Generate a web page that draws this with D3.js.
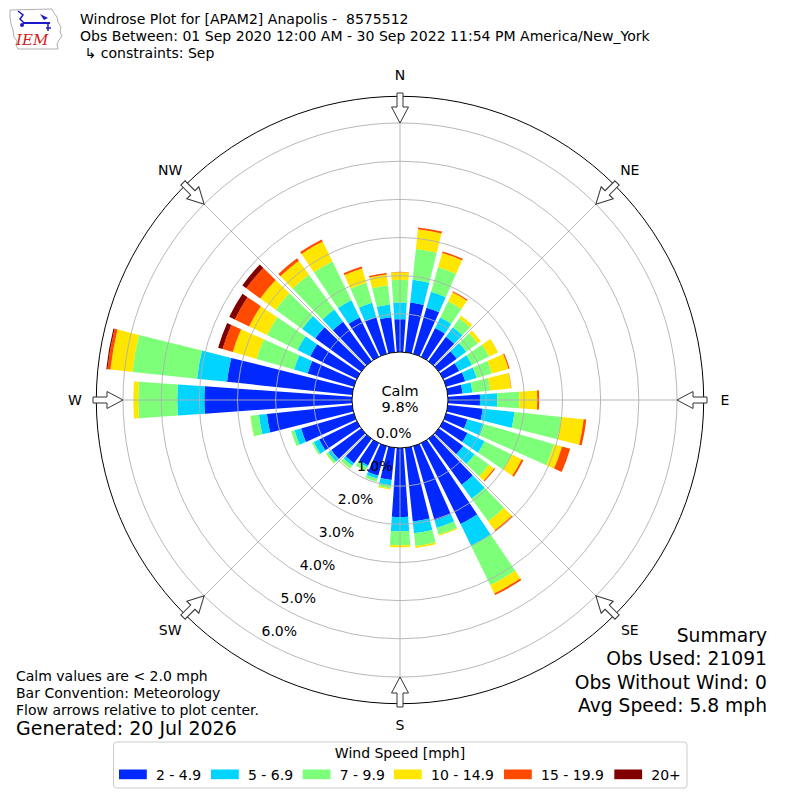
<!DOCTYPE html>
<html>
<head>
<meta charset="utf-8">
<script src="https://cdn.jsdelivr.net/npm/d3@7"></script>
<style>
body { margin: 0; background: #fff; }
svg { font-family: "DejaVu Sans", sans-serif; }
text { white-space: pre; }
</style>
</head>
<body>
<script>
// wind directions (deg, meteorological) and speed bins
const directions = [0, 10, 20, 30, 40, 50, 60, 70, 80, 90, 100, 110, 120, 130, 140, 150, 160, 170,
                    180, 190, 200, 210, 220, 230, 240, 250, 260, 270, 280, 290, 300, 310, 320, 330, 340, 350];
const speedBins = ["2 - 4.9", "5 - 6.9", "7 - 9.9", "10 - 14.9", "15 - 19.9", "20+"];
const binColors = ["#0028ff", "#00d4ff", "#7dff7a", "#ffe600", "#ff4a00", "#800000"];

// frequency (%) per direction for each speed bin
const spd2to5 = [0.86, 1.31, 1.26, 0.84, 0.79, 0.58, 0.47, 0.52, 0.39, 0.84, 0.92, 0.58, 0.71, 0.79, 1.49, 2.36, 2.02, 1.94,
                 1.81, 0.85, 0.81, 0.65, 0.79, 0.97, 1.10, 1.44, 2.25, 3.87, 3.30, 1.26, 1.36, 1.49, 1.28, 1.15, 1.00, 0.92];
const spd5to7 = [0.44, 0.60, 0.43, 0.31, 0.31, 0.31, 0.37, 0.31, 0.26, 0.45, 0.84, 0.45, 0.50, 0.37, 0.45, 0.63, 0.21, 0.31,
                 0.37, 0.14, 0.08, 0.05, 0.08, 0.10, 0.16, 0.18, 0.21, 0.71, 0.79, 0.37, 0.37, 0.42, 0.39, 0.50, 0.39, 0.34];
const spd7to10 = [0.59, 0.81, 0.67, 0.47, 0.29, 0.37, 0.50, 0.42, 0.47, 0.58, 1.23, 1.91, 0.79, 0.47, 0.73, 1.15, 0.18, 0.34,
                  0.37, 0.08, 0.08, 0.11, 0.09, 0.07, 0.05, 0.09, 0.22, 1.02, 1.70, 1.02, 0.89, 0.86, 1.13, 1.13, 0.55, 0.50];
const spd10to15 = [0.20, 0.52, 0.39, 0.26, 0.08, 0.10, 0.26, 0.45, 0.55, 0.47, 0.59, 0.22, 0.29, 0.16, 0.29, 0.24, 0.03, 0.05,
                   0.05, 0.03, 0.00, 0.00, 0.01, 0.01, 0.00, 0.00, 0.01, 0.13, 0.58, 0.65, 0.52, 0.50, 0.45, 0.58, 0.39, 0.29];
const spd15to20 = [0.01, 0.05, 0.04, 0.03, 0.00, 0.00, 0.00, 0.03, 0.01, 0.05, 0.07, 0.22, 0.05, 0.03, 0.03, 0.05, 0.00, 0.00,
                   0.00, 0.00, 0.00, 0.00, 0.00, 0.00, 0.00, 0.00, 0.00, 0.00, 0.08, 0.28, 0.42, 0.45, 0.08, 0.06, 0.05, 0.04];
const spd20plus = [0, 0, 0, 0, 0, 0, 0, 0, 0, 0, 0, 0, 0, 0, 0, 0, 0, 0,
                   0, 0, 0, 0, 0, 0, 0, 0, 0, 0, 0.03, 0.12, 0.16, 0.13, 0, 0, 0, 0];

const ringTicks = [0, 1, 2, 3, 4, 5, 6];
const compass = ["N", "NE", "E", "SE", "S", "SW", "W", "NW"];
const compassDeg = [0, 45, 90, 135, 180, 225, 270, 315];
const calmPct = 9.8;

const titleLines = ["Windrose Plot for [APAM2] Anapolis -  8575512",
                    "Obs Between: 01 Sep 2020 12:00 AM - 30 Sep 2022 11:54 PM America/New_York",
                    " \u21b3 constraints: Sep"];
const noteLines = ["Calm values are < 2.0 mph", "Bar Convention: Meteorology", "Flow arrows relative to plot center."];
const summaryLines = ["Summary", "Obs Used: 21091", "Obs Without Wind: 0", "Avg Speed: 5.8 mph"];

const W = 800, H = 800, cx = 400, cy = 400;

const svg = d3.select("body").append("svg")
    .attr("width", W).attr("height", H);

// radial scale: 0% sits on the calm circle
const r = d3.scaleLinear().domain([0, 6]).range([48, 277]);
const rOuter = r(6.7);
const ang = d3.scaleLinear().domain([0, 360]).range([0, 2 * Math.PI]);

const keys = ["b0", "b1", "b2", "b3", "b4", "b5"];
const series = [spd2to5, spd5to7, spd7to10, spd10to15, spd15to20, spd20plus];
const rows = directions.map((d, i) => {
    const o = {dir: d};
    keys.forEach((k, j) => o[k] = series[j][i]);
    return o;
});
const stacked = d3.stack().keys(keys)(rows);

const plot = svg.append("g").attr("transform", `translate(${cx},${cy})`);

const arc = d3.arc()
    .innerRadius(d => r(d[0]))
    .outerRadius(d => r(d[1]))
    .startAngle(d => ang(d.data.dir - 4))
    .endAngle(d => ang(d.data.dir + 4));

// bars
plot.selectAll("g.layer")
    .data(stacked)
    .enter().append("g")
    .attr("class", "layer")
    .attr("fill", (d, i) => binColors[i])
    .selectAll("path")
    .data(d => d.filter(s => s[1] - s[0] > 0))
    .enter().append("path")
    .attr("d", arc);

// grid (drawn over bars)
plot.selectAll("circle.ring")
    .data(ringTicks.slice(1))
    .enter().append("circle")
    .attr("class", "ring")
    .attr("r", d => r(d))
    .attr("fill", "none")
    .attr("stroke", "#b0b0b0")
    .attr("stroke-width", 0.9);

plot.selectAll("line.spoke")
    .data(compassDeg)
    .enter().append("line")
    .attr("class", "spoke")
    .attr("x1", d => r(0) * Math.sin(ang(d)))
    .attr("y1", d => -r(0) * Math.cos(ang(d)))
    .attr("x2", d => rOuter * Math.sin(ang(d)))
    .attr("y2", d => -rOuter * Math.cos(ang(d)))
    .attr("stroke", "#b0b0b0")
    .attr("stroke-width", 0.9);

// outer frame
plot.append("circle")
    .attr("r", rOuter)
    .attr("fill", "none")
    .attr("stroke", "#000")
    .attr("stroke-width", 1);

// calm circle
plot.append("circle")
    .attr("r", r(0))
    .attr("fill", "#fff")
    .attr("stroke", "#000")
    .attr("stroke-width", 1);

plot.append("text").attr("x", 0).attr("y", -4)
    .attr("text-anchor", "middle").attr("font-size", 14.5).text("Calm");
plot.append("text").attr("x", 0).attr("y", 12)
    .attr("text-anchor", "middle").attr("font-size", 14.5).text(calmPct.toFixed(1) + "%");

// radial tick labels along 210 deg
const labAng = ang(210);
plot.selectAll("text.rlab")
    .data(ringTicks)
    .enter().append("text")
    .attr("class", "rlab")
    .attr("x", d => r(d) * Math.sin(labAng))
    .attr("y", d => -r(d) * Math.cos(labAng) - 3.5)
    .attr("font-size", 14)
    .text(d => d.toFixed(1) + "%");

// flow arrows pointing to center
const arrowPath = "M-3,-307 L3,-307 L3,-293 L8.5,-293 L0,-277 L-8.5,-293 L-3,-293 Z";
plot.selectAll("path.arrow")
    .data(compassDeg)
    .enter().append("path")
    .attr("class", "arrow")
    .attr("d", arrowPath)
    .attr("transform", d => `rotate(${d})`)
    .attr("fill", "#fff")
    .attr("stroke", "#333")
    .attr("stroke-width", 1);

// compass labels
plot.selectAll("text.dir")
    .data(compass)
    .enter().append("text")
    .attr("class", "dir")
    .attr("x", (d, i) => 325 * Math.sin(ang(compassDeg[i])))
    .attr("y", (d, i) => -325 * Math.cos(ang(compassDeg[i])))
    .attr("text-anchor", "middle")
    .attr("dominant-baseline", "central")
    .attr("font-size", 14)
    .text(d => d);

// title
svg.selectAll("text.title")
    .data(titleLines)
    .enter().append("text")
    .attr("class", "title")
    .attr("x", 80)
    .attr("y", (d, i) => 24 + i * 17)
    .attr("font-size", 14.05)
    .text(d => d);

// logo (simplified)
const logo = svg.append("g");
logo.append("path")
    .attr("d", "M10,10 L52,9 L54,13 L57,17 L58,22 L61,27 L60,32 L62,36 L59,40 L57,44 L58,49 L18,49 L16,45 L17,41 L14,37 L13,30 L11,24 L10,17 Z")
    .attr("fill", "none").attr("stroke", "#999").attr("stroke-width", 0.8);
logo.append("line").attr("x1", 23).attr("y1", 23).attr("x2", 50).attr("y2", 23)
    .attr("stroke", "#1a1acc").attr("stroke-width", 2);
logo.append("path").attr("d", "M18,11 L23,15 L20,19 L24,23").attr("fill", "none")
    .attr("stroke", "#1a1acc").attr("stroke-width", 1.5);
logo.append("path").attr("d", "M40,14 L48,18 L44,20 Z").attr("fill", "#1a1acc");
logo.append("path").attr("d", "M48,23 L48,31 M46,28 L51,28").attr("stroke", "#1a1acc").attr("stroke-width", 1.5);
logo.append("circle").attr("cx", 22).attr("cy", 25).attr("r", 2).attr("fill", "#1a1acc");
logo.append("text").attr("x", 16).attr("y", 45)
    .attr("font-family", "'DejaVu Serif', serif").attr("font-style", "italic")
    .attr("font-size", 15).attr("fill", "#d42020").text("IEM");

// notes bottom left
svg.selectAll("text.note")
    .data(noteLines)
    .enter().append("text")
    .attr("class", "note")
    .attr("x", 16)
    .attr("y", (d, i) => 681 + i * 17)
    .attr("font-size", 14)
    .text(d => d);
svg.append("text").attr("x", 16).attr("y", 735)
    .attr("font-size", 19).text("Generated: 20 Jul 2026");

// summary bottom right
svg.selectAll("text.summary")
    .data(summaryLines)
    .enter().append("text")
    .attr("class", "summary")
    .attr("x", 767)
    .attr("y", (d, i) => 642 + i * 23.3)
    .attr("text-anchor", "end")
    .attr("font-size", 18.7)
    .text(d => d);

// legend
const legend = svg.append("g");
legend.append("rect")
    .attr("x", 113.5).attr("y", 742).attr("width", 573.5).attr("height", 46)
    .attr("rx", 3).attr("fill", "#fff").attr("stroke", "#cccccc");
legend.append("text").attr("x", 400).attr("y", 758)
    .attr("text-anchor", "middle").attr("font-size", 14).text("Wind Speed [mph]");
const legX = [119, 211, 302.7, 394, 504, 614.3];
const item = legend.selectAll("g.item")
    .data(speedBins)
    .enter().append("g")
    .attr("class", "item")
    .attr("transform", (d, i) => `translate(${legX[i]},0)`);
item.append("rect")
    .attr("x", 0).attr("y", 769.5).attr("width", 27.8).attr("height", 9.7)
    .attr("fill", (d, i) => binColors[i]);
item.append("text")
    .attr("x", 37).attr("y", 779.5)
    .attr("font-size", 14)
    .text(d => d);
</script>
</body>
</html>
